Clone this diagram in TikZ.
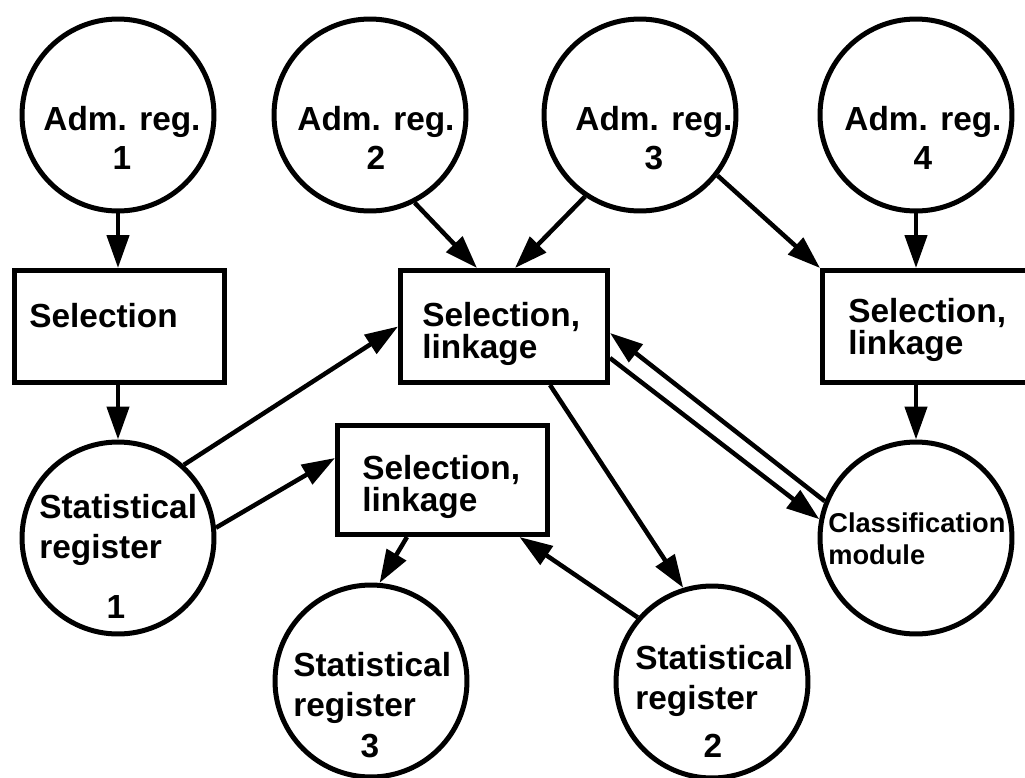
\documentclass[tikz,border=0pt]{standalone}
\usepackage{fontspec}
\setmainfont{Liberation Sans}
\usetikzlibrary{arrows.meta}

\begin{document}
\begin{tikzpicture}[x=0.02cm, y=-0.02cm,
  reg/.style={draw, circle, line width=0.1cm, minimum size=3.84cm, inner sep=0},
  box/.style={draw, rectangle, line width=0.1cm, minimum width=4.14cm, minimum height=2.24cm, inner sep=0},
  lbl/.style={inner sep=0, font=\bfseries\fontsize{19}{22.5}\selectfont},
  boxlbl/.style={lbl, align=left, anchor=north west, font=\bfseries\fontsize{19}{18}\selectfont},
  arr/.style={line width=0.09cm, -{Triangle[length=0.66cm, width=0.44cm]}}]
  \useasboundingbox (0,0) rectangle (1025,778);
  \clip (0,0) rectangle (1025,778);

  % registers
  \node[reg] (adm1) at (118,115) {};
  \node[reg] (adm2) at (370,115) {};
  \node[reg] (adm3) at (640,115) {};
  \node[reg] (adm4) at (916,115) {};
  \node[reg] (stat1) at (118,538) {};
  \node[reg] (stat3) at (371,681) {};
  \node[reg] (stat2) at (712,682) {};
  \node[reg] (class) at (916,538) {};

  \node[lbl, align=center] (adm1t) at (122,138) {Adm. reg.\\1};
  \node[lbl, align=center] (adm2t) at (376,138) {Adm. reg.\\2};
  \node[lbl, align=center] (adm3t) at (654,138) {Adm. reg.\\3};
  \node[lbl, align=center] (adm4t) at (923,138) {Adm. reg.\\4};

  \node[lbl, align=left, anchor=north west] (stat1t) at (39,494) {Statistical\\register};
  \node[lbl, anchor=base] (stat1n) at (116,618) {1};
  \node[lbl, align=left, anchor=north west] (stat3t) at (293,652) {Statistical\\register};
  \node[lbl, anchor=base] (stat3n) at (370,757) {3};
  \node[lbl, align=left, anchor=north west] (stat2t) at (635,645) {Statistical\\register};
  \node[lbl, anchor=base] (stat2n) at (713,757) {2};
  \node[lbl, align=left, anchor=north west, font=\bfseries\fontsize{15.5}{18.7}\selectfont]
    (classt) at (828,512) {Classification\\module};

  % processing boxes
  \node[box, minimum width=4.2cm] (sel1) at (119.5,326.5) {};
  \node[box] (link2) at (504,326.5) {};
  \node[box, minimum width=4.2cm, minimum height=2.18cm] (link3) at (442.5,480) {};
  \node[box] (link4) at (926,326.5) {};

  \node[boxlbl] (sel1t) at (29,303) {Selection};
  \node[boxlbl] (link2t) at (422,302) {Selection,\\linkage};
  \node[boxlbl] (link3t) at (362,455) {Selection,\\linkage};
  \node[boxlbl] (link4t) at (848,298) {Selection,\\linkage};

  % flows
  \draw[arr] (adm1.south) -- (adm1.south |- sel1.north);
  \draw[arr] (stat1.north |- sel1.south) -- (stat1.north);
  \draw[arr] (adm2.-63) -- ([xshift=-0.54cm]link2.north);
  \draw[arr] (adm3.-124) -- ([xshift=0.22cm]link2.north);
  \draw[arr] (adm3.-38) -- (link4.north west);
  \draw[arr] (adm4.south) -- (adm4.south |- link4.north);
  \draw[arr] (class.north |- link4.south) -- (class.north);
  \draw[arr] (stat1.48) -- (link2.west);
  \draw[arr] (stat1.6) -- ([yshift=0.44cm]link3.west);
  \draw[arr] ([xshift=-0.71cm]link3.south) -- (stat3.85);
  \draw[arr] (stat2.139) -- ([xshift=-0.61cm]link3.south east);
  \draw[arr] ([xshift=0.92cm]link2.south) -- (stat2.107);

  % to and from the classification module
  \draw[arr] ([yshift=-0.63cm]link2.east) -- (class.169);
  \draw[arr] (class.158) -- ([yshift=-0.13cm]link2.east);
\end{tikzpicture}
\end{document}
